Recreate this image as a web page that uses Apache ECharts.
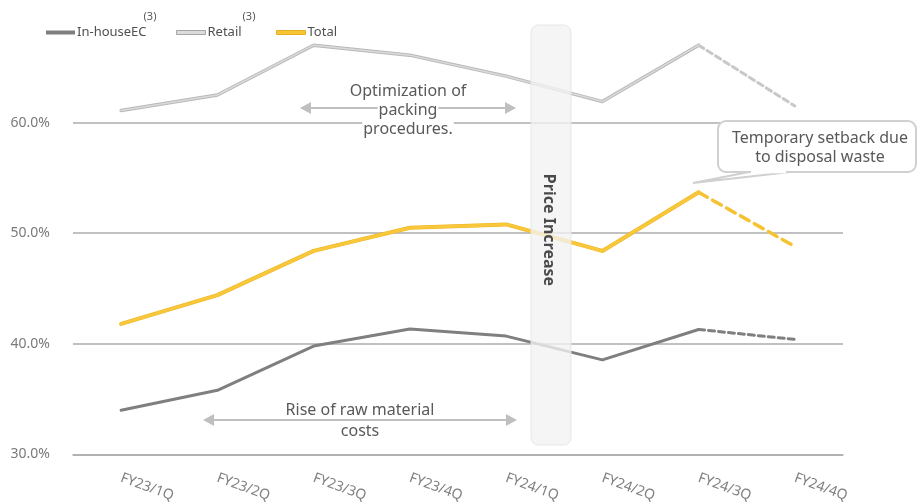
<!DOCTYPE html>
<html>
<head>
<meta charset="utf-8">
<script src="https://cdn.jsdelivr.net/npm/echarts@6/dist/echarts.min.js"></script>
<style>
  html, body { margin: 0; padding: 0; background: #ffffff; }
  #chart { width: 918px; height: 504px; }
</style>
</head>
<body>
<div id="chart"></div>
<script>
// Quarterly margin by channel (%)
const categories = ['FY23/1Q', 'FY23/2Q', 'FY23/3Q', 'FY23/4Q', 'FY24/1Q', 'FY24/2Q', 'FY24/3Q', 'FY24/4Q'];
const inHouseEC = [34.0, 35.8, 39.8, 41.35, 40.7, 38.55, 41.3, 40.4];
const retail = [61.1, 62.5, 67.0, 66.1, 64.2, 61.9, 67.0, 61.5];
const total = [41.8, 44.4, 48.4, 50.5, 50.8, 48.4, 53.7, 48.8];
const yTicks = [30, 40, 50, 60, 70];

// The final quarter is a forecast and drawn dashed
const FORECAST_FROM = 6;
const actual = arr => arr.map((v, i) => (i <= FORECAST_FROM ? v : null));
const forecast = arr => arr.map((v, i) => (i >= FORECAST_FROM ? v : null));

const FONT = '"Noto Sans", sans-serif';
const TEXT = '#595959';
const GRID = '#adadad';

const chart = echarts.init(document.getElementById('chart'), null, { renderer: 'canvas' });

function lineSeries(name, data, color, width, dash, z) {
  return {
    name, type: 'line', data, symbol: 'none', z: z || 2,
    lineStyle: { color, width, type: dash || 'solid', cap: 'round', join: 'round' },
    itemStyle: { color },
    connectNulls: false, silent: true
  };
}

// Annotation helpers
function arrow(x1, x2, y, color) {
  const h = 6, l = 11;
  return [
    { type: 'line', shape: { x1: x1 + l - 2, y1: y, x2: x2 - l + 2, y2: y }, style: { stroke: color, lineWidth: 2 }, z: 50 },
    { type: 'polygon', shape: { points: [[x1, y], [x1 + l, y - h], [x1 + l, y + h]] }, style: { fill: color }, z: 50 },
    { type: 'polygon', shape: { points: [[x2, y], [x2 - l, y - h], [x2 - l, y + h]] }, style: { fill: color }, z: 50 }
  ];
}
function label(text, x, y, bg) {
  return {
    type: 'text', x, y, z: 60,
    style: {
      text, font: `16px ${FONT}`, fill: TEXT,
      align: 'center', verticalAlign: 'middle',
      backgroundColor: bg ? '#ffffff' : 'transparent', padding: [0, 1]
    }
  };
}

const graphics = [
  // "Price Increase" band
  { type: 'rect', shape: { x: 531, y: 25, width: 40, height: 420, r: 7 },
    style: { fill: 'rgba(242,242,242,0.78)', stroke: 'rgba(230,230,230,0.9)', lineWidth: 1 }, z: 40 },
  { type: 'text', x: 549, y: 230, rotation: -Math.PI / 2, z: 41,
    style: { text: 'Price Increase', font: `bold 16px ${FONT}`, fill: '#4a4a4a', align: 'center', verticalAlign: 'middle' } },

  // Packing optimisation note
  ...arrow(300, 516, 108, '#bfbfbf'),
  label('Optimization of', 408, 91, true),
  label('packing', 408, 110, true),
  label('procedures.', 408, 129, true),

  // Raw material note
  ...arrow(203, 517, 420, '#bfbfbf'),
  label('Rise of raw material', 360, 410, true),
  label('costs', 360, 431, false),

  // Callout bubble
  { type: 'rect', z: 60, shape: { x: 718, y: 121, width: 198, height: 51, r: 8 },
    style: { fill: '#ffffff', stroke: '#d0d0d0', lineWidth: 2 } },
  { type: 'polygon', z: 61, shape: { points: [[749, 172], [693, 183], [790, 172]] },
    style: { fill: '#ffffff', stroke: '#d0d0d0', lineWidth: 2 } },
  { type: 'line', z: 62, shape: { x1: 751, y1: 172, x2: 786, y2: 172 },
    style: { stroke: '#ffffff', lineWidth: 2.4 } },
  label('Temporary setback due', 820, 138, false),
  label('to disposal waste', 820, 157, false),

  // Footnote markers on legend entries
  { type: 'text', x: 150, y: 17, z: 60, style: { text: '(3)', font: `11px ${FONT}`, fill: TEXT, align: 'center', verticalAlign: 'middle' } },
  { type: 'text', x: 249, y: 17, z: 60, style: { text: '(3)', font: `11px ${FONT}`, fill: TEXT, align: 'center', verticalAlign: 'middle' } }
];

// One legend entry per block so each can sit at its own place
const legendStyle = (left, name, itemStyle) => ({
  left, top: 21, itemWidth: 29, itemHeight: 4, icon: 'rect', padding: 5,
  textStyle: { color: '#505050', fontSize: 13, fontFamily: FONT, padding: [0, 0, 0, -3] },
  data: [{ name, itemStyle }]
});

chart.setOption({
  animation: false,
  backgroundColor: '#ffffff',
  textStyle: { fontFamily: FONT },
  grid: { left: 73, right: 75, top: 12, bottom: 49, containLabel: false },
  legend: [
    legendStyle(41, 'In-houseEC', { color: '#7f7f7f' }),
    legendStyle(171, 'Retail', { color: '#dcdcdc', borderColor: '#a6a6a6', borderWidth: 1 }),
    legendStyle(271, 'Total', { color: '#f8c632', borderColor: '#e6b025', borderWidth: 1 })
  ],
  xAxis: {
    type: 'category', data: categories, boundaryGap: true,
    axisLine: { show: true, lineStyle: { color: GRID, width: 1.5 } },
    axisTick: { show: false },
    axisLabel: { rotate: -20, margin: 23, color: '#7f7f7f', fontSize: 14, fontFamily: FONT },
    splitLine: { show: false }
  },
  yAxis: {
    type: 'value', min: yTicks[0], max: yTicks[yTicks.length - 1], interval: 10,
    axisLine: { show: false }, axisTick: { show: false },
    axisLabel: { margin: 23, color: '#7a7a7a', fontSize: 14, fontFamily: FONT,
      showMaxLabel: false, formatter: v => v.toFixed(1) + '%' },
    splitLine: { show: true, lineStyle: { color: yTicks.map((t, i) => (i === yTicks.length - 1 ? 'rgba(0,0,0,0)' : GRID)), width: 1.5 } }
  },
  series: [
    lineSeries('In-houseEC', actual(inHouseEC), '#7f7f7f', 3),
    lineSeries('In-houseEC forecast', forecast(inHouseEC), '#7f7f7f', 3, [6, 4]),
    lineSeries('Retail', actual(retail), '#b9b9b9', 3.5),
    lineSeries('Retail inner', actual(retail), '#dadada', 1.5, null, 3),
    lineSeries('Retail forecast', forecast(retail), '#c8c8c8', 3, [6, 4]),
    lineSeries('Total', actual(total), '#ebb525', 4, null, 4),
    lineSeries('Total inner', actual(total), '#f9c83a', 3, null, 5),
    lineSeries('Total forecast', forecast(total), '#f5c232', 3.5, [10, 6], 4)
  ],
  graphic: graphics
});
</script>
</body>
</html>
